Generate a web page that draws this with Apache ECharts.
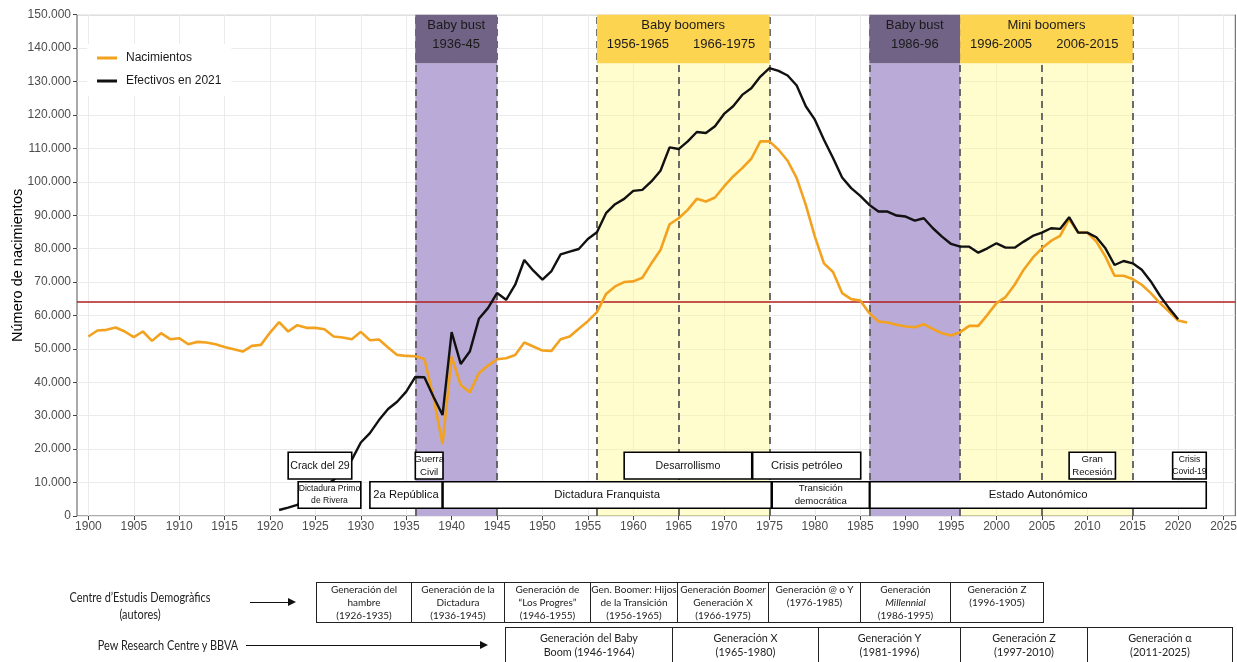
<!DOCTYPE html>
<html>
<head>
<meta charset="utf-8">
<script src="https://cdn.jsdelivr.net/npm/echarts@6/dist/echarts.min.js"></script>
<style>
  html, body { margin: 0; padding: 0; background: #fff; }
  #chart { position: absolute; left: 0; top: 0; width: 1237px; height: 662px; }
  .lbl { position: absolute; font-family: Lato, 'Open Sans', sans-serif; color: #222; text-align: center; white-space: nowrap;
         transform: scaleX(0.84); transform-origin: 50% 50%; }
  .cell { position: absolute; box-sizing: border-box; border: 1px solid #222; background: #fff;
          font-family: Lato, 'Open Sans', sans-serif; color: #222; text-align: center; white-space: nowrap; overflow: visible; }
  .arrow { position: absolute; height: 0; border-top: 1.3px solid #111; }
  .arrow::after { content: ''; position: absolute; right: -2px; top: -5px; border-left: 8px solid #111;
                  border-top: 4.5px solid transparent; border-bottom: 4.5px solid transparent; }
</style>
</head>
<body>
<div id="chart"></div>
<script>
// ---------------- DATA ----------------
const birthYears = [1900,1901,1902,1903,1904,1905,1906,1907,1908,1909,1910,1911,1912,1913,1914,1915,1916,1917,1918,1919,
  1920,1921,1922,1923,1924,1925,1926,1927,1928,1929,1930,1931,1932,1933,1934,1935,1936,1937,1938,1939,
  1940,1941,1942,1943,1944,1945,1946,1947,1948,1949,1950,1951,1952,1953,1954,1955,1956,1957,1958,1959,
  1960,1961,1962,1963,1964,1965,1966,1967,1968,1969,1970,1971,1972,1973,1974,1975,1976,1977,1978,1979,
  1980,1981,1982,1983,1984,1985,1986,1987,1988,1989,1990,1991,1992,1993,1994,1995,1996,1997,1998,1999,
  2000,2001,2002,2003,2004,2005,2006,2007,2008,2009,2010,2011,2012,2013,2014,2015,2016,2017,2018,2019,
  2020,2021];
const births = [53700,55500,55700,56400,55200,53500,55200,52400,54700,52900,53200,51400,52100,51900,51400,50600,49900,49200,50900,51200,
  54900,58000,55200,57100,56300,56300,55900,53700,53400,52900,55100,52600,52800,50400,48200,47900,47800,47000,35500,21500,
  47700,39200,37000,42700,45000,46900,47200,48200,51900,50700,49500,49400,52900,53700,56000,58300,61000,66400,68700,70000,
  70200,71300,75600,79600,87300,89100,91600,94900,94100,95300,98600,101600,104100,106900,112100,112100,109600,106300,101100,93100,
  83600,75600,73000,66700,64900,64500,60700,58200,57900,57200,56700,56500,57400,55900,54700,54000,55000,56900,56900,60200,
  63700,65500,69200,73700,77300,80100,82300,83800,88800,84800,84800,82100,77600,71900,71900,70900,69200,66700,63700,61200,
  58500,57900];

const survivorYears = [1921,1922,1923,1924,1925,1926,1927,1928,1929,1930,1931,1932,1933,1934,1935,1936,1937,1938,1939,
  1940,1941,1942,1943,1944,1945,1946,1947,1948,1949,1950,1951,1952,1953,1954,1955,1956,1957,1958,1959,
  1960,1961,1962,1963,1964,1965,1966,1967,1968,1969,1970,1971,1972,1973,1974,1975,1976,1977,1978,1979,
  1980,1981,1982,1983,1984,1985,1986,1987,1988,1989,1990,1991,1992,1993,1994,1995,1996,1997,1998,1999,
  2000,2001,2002,2003,2004,2005,2006,2007,2008,2009,2010,2011,2012,2013,2014,2015,2016,2017,2018,2019,2020];
const survivors = [1800,2500,3300,5500,7500,9000,10800,13500,16800,22000,24800,28700,32000,34200,37200,41600,41500,35700,30200,
  55000,45500,49200,59000,62200,66700,64700,69200,76600,73400,70700,73300,78300,79100,79900,82900,84900,90600,93300,94900,
  97300,97600,100100,103300,110300,109800,112100,114900,114600,116600,120300,122600,126000,128000,131500,134000,133200,131800,128800,122600,
  118600,112600,107100,101300,98100,95800,93100,91100,91100,89900,89600,88400,89100,86100,83600,81400,80600,80600,78800,80100,
  81600,80300,80300,82100,83800,84800,86100,85900,89400,84800,84800,83400,80100,75100,76300,75600,73700,70200,65900,62200,58900];

const yTicks = { min: 0, max: 150000, step: 10000 };
const xTicks = { min: 1900, max: 2025, step: 5 };
const referenceLevel = 64200;
const headerFloor = 135500;

const bustPeriods = [[1936, 1945], [1986, 1996]];
const boomPeriods = [[1956, 1975], [1996, 2015]];
const headerBoxes = [
  { text: 'Baby bust\n1936-45', from: 1936, to: 1945, kind: 'bust' },
  { text: 'Baby boomers', from: 1956, to: 1975, kind: 'boom' },
  { text: 'Baby bust\n1986-96', from: 1986, to: 1996, kind: 'bust' },
  { text: 'Mini boomers', from: 1996, to: 2015, kind: 'boom' }
];
const headerSubLabels = [
  { text: '1956-1965', from: 1956, to: 1965 },
  { text: '1966-1975', from: 1965, to: 1975 },
  { text: '1996-2005', from: 1996, to: 2005 },
  { text: '2006-2015', from: 2005, to: 2015 }
];
const dashedYears = [1936, 1945, 1956, 1965, 1975, 1986, 1996, 2005, 2015];

const eventRows = { upper: [11050, 19070], lower: [2300, 10270] };
const events = [
  { text: 'Crack del 29', from: 1922.0, to: 1929.0, row: 'upper', size: 10.6 },
  { text: 'Dictadura Primo\nde Rivera', from: 1923.1, to: 1930.0, row: 'lower', size: 8.6 },
  { text: '2a República', from: 1931.0, to: 1938.95, row: 'lower', size: 11.2 },
  { text: 'Guerra\nCivil', from: 1936.0, to: 1939.05, row: 'upper', size: 9.6 },
  { text: 'Dictadura Franquista', from: 1939.05, to: 1975.2, row: 'lower', size: 11.4 },
  { text: 'Desarrollismo', from: 1959.0, to: 1973.05, row: 'upper', size: 10.6 },
  { text: 'Crisis petróleo', from: 1973.15, to: 1985.05, row: 'upper', size: 11.2 },
  { text: 'Transición\ndemocrática', from: 1975.3, to: 1986.0, row: 'lower', size: 9.6 },
  { text: 'Estado Autonómico', from: 1986.07, to: 2023.1, row: 'lower', size: 11.4 },
  { text: 'Gran\nRecesión', from: 2008.0, to: 2013.1, row: 'upper', size: 9.6 },
  { text: 'Crisis\nCovid-19', from: 2019.4, to: 2023.1, row: 'upper', size: 8.6 }
];

const cedLabel = ['Centre d’Estudis  Demogràfics', '(autores)'];
const cedGenerations = [
  ['Generación del', 'hambre', '(1926-1935)'],
  ['Generación de la', 'Dictadura', '(1936-1945)'],
  ['Generación de', '“Los Progres”', '(1946-1955)'],
  ['Gen. Boomer: Hijos', 'de la Transición', '(1956-1965)'],
  ['Generación <i>Boomer</i>', 'Generación X', '(1966-1975)'],
  ['Generación @ o Y', '(1976-1985)'],
  ['Generación', '<i>Millennial</i>', '(1986-1995)'],
  ['Generación Z', '(1996-1905)']
];
const pewLabel = 'Pew Research Centre y BBVA';
const pewGenerations = [
  ['Generación del Baby', 'Boom (1946-1964)'],
  ['Generación X', '(1965-1980)'],
  ['Generación Y', '(1981-1996)'],
  ['Generación Z', '(1997-2010)'],
  ['Generación α', '(2011-2025)']
];

// ---------------- LAYOUT / STYLE ----------------
const FONT = "'Liberation Sans', Arial, sans-serif";
const C = {
  births: '#F3A21F', survivors: '#111111', ref: '#B01E1E',
  bustBand: '#B9AAD7', bustHead: '#706385', boomBand: 'rgba(255,248,130,0.40)', boomHead: '#FDD450',
  grid: '#EBEBEB', dash: '#5c5c5c'
};

const series = [];

// shaded bands
series.push({
  type: 'line', data: [], z: 1, silent: true, xAxisIndex: 0, yAxisIndex: 0,
  markArea: {
    silent: true, z: 1,
    data: bustPeriods.map(p => [{ xAxis: p[0], yAxis: 0, itemStyle: { color: C.bustBand } }, { xAxis: p[1], yAxis: headerFloor }])
      .concat(boomPeriods.map(p => [{ xAxis: p[0], yAxis: 0, itemStyle: { color: C.boomBand } }, { xAxis: p[1], yAxis: headerFloor }]))
  }
});
// reference line (spans whole panel)
series.push({
  type: 'line', data: [], z: 2, silent: true, xAxisIndex: 1, yAxisIndex: 1,
  markLine: { silent: true, z: 2, symbol: 'none', label: { show: false },
    lineStyle: { color: C.ref, width: 1.5, type: 'solid' }, data: [{ yAxis: referenceLevel }] }
});
// dashed separators
series.push({
  type: 'line', data: [], z: 3, silent: true, xAxisIndex: 0, yAxisIndex: 0,
  markLine: { silent: true, z: 3, symbol: 'none', label: { show: false },
    lineStyle: { color: C.dash, width: 1.8, type: [7, 5] }, data: dashedYears.map(y => ({ xAxis: y })) }
});
// data lines
series.push({
  name: 'Nacimientos', type: 'line', z: 4, xAxisIndex: 0, yAxisIndex: 0,
  data: birthYears.map((y, i) => [y, births[i]]),
  showSymbol: false, symbol: 'none', lineStyle: { color: C.births, width: 2.6 }, itemStyle: { color: C.births }
});
series.push({
  name: 'Efectivos en 2021', type: 'line', z: 5, xAxisIndex: 0, yAxisIndex: 0,
  data: survivorYears.map((y, i) => [y, survivors[i]]),
  showSymbol: false, symbol: 'none', lineStyle: { color: C.survivors, width: 2.4 }, itemStyle: { color: C.survivors }
});
// event boxes
series.push({
  type: 'line', data: [], z: 10, silent: true, xAxisIndex: 0, yAxisIndex: 0,
  markArea: {
    silent: true, z: 10,
    data: events.map(e => [{
      name: e.text, xAxis: e.from, yAxis: eventRows[e.row][0],
      itemStyle: { color: '#fff', borderColor: '#000', borderWidth: 1.6 },
      label: { show: true, position: 'inside', color: '#111', fontFamily: FONT,
               fontSize: e.size, lineHeight: e.size + 3.5 }
    }, { xAxis: e.to, yAxis: eventRows[e.row][1] }])
  }
});
// header boxes
series.push({
  type: 'line', data: [], z: 11, silent: true, xAxisIndex: 0, yAxisIndex: 0,
  markArea: {
    silent: true, z: 11,
    data: headerBoxes.map(h => [{
      name: h.text, xAxis: h.from, yAxis: headerFloor,
      itemStyle: { color: h.kind === 'bust' ? C.bustHead : C.boomHead },
      label: { show: true, position: 'insideTop', distance: 1, color: '#1a1a1a', fontFamily: FONT, fontSize: 13, lineHeight: 19 }
    }, { xAxis: h.to, yAxis: yTicks.max }]).concat(headerSubLabels.map(h => [{
      name: h.text, xAxis: h.from, yAxis: headerFloor,
      itemStyle: { color: 'rgba(0,0,0,0)' },
      label: { show: true, position: 'insideTop', distance: 20, color: '#1a1a1a', fontFamily: FONT, fontSize: 13, lineHeight: 19 }
    }, { xAxis: h.to, yAxis: yTicks.max }]))
  }
});

const option = {
  animation: false,
  backgroundColor: '#fff',
  textStyle: { fontFamily: FONT },
  legend: {
    data: ['Nacimientos', 'Efectivos en 2021'], orient: 'vertical', left: 87, top: 44,
    padding: [8, 10, 9, 10], itemGap: 11, itemWidth: 20, itemHeight: 3, icon: 'rect',
    backgroundColor: '#fff', selectedMode: false,
    textStyle: { fontSize: 12, color: '#1a1a1a', fontFamily: FONT, padding: [0, 0, 0, 4] }
  },
  grid: [
    { left: 88.4, right: 13.5, top: 14.7, bottom: 146, show: false, containLabel: false, outerBoundsMode: 'none' },
    { left: 77, right: 1.7, top: 14.7, bottom: 146, show: true, borderColor: '#555', borderWidth: 1,
      backgroundColor: 'rgba(0,0,0,0)', containLabel: false, outerBoundsMode: 'none' }
  ],
  xAxis: [
    { gridIndex: 0, type: 'value', min: xTicks.min, max: xTicks.max, interval: xTicks.step,
      axisLine: { show: false }, axisTick: { show: true, length: 4, lineStyle: { color: '#444' } },
      axisLabel: { fontSize: 12, color: '#4d4d4d', margin: 5, fontFamily: FONT, formatter: v => String(v) },
      splitLine: { show: true, lineStyle: { color: C.grid, width: 1 } } },
    { gridIndex: 1, type: 'value', min: 0, max: 1, show: false }
  ],
  yAxis: [
    { gridIndex: 0, type: 'value', min: yTicks.min, max: yTicks.max, show: false, splitLine: { show: false } },
    { gridIndex: 1, type: 'value', min: yTicks.min, max: yTicks.max, interval: yTicks.step,
      name: 'Número de nacimientos', nameLocation: 'middle', nameGap: 52, nameRotate: 90, nameMoveOverlap: false,
      nameTextStyle: { fontSize: 14.5, color: '#000', fontFamily: FONT },
      axisLine: { show: false }, axisTick: { show: true, length: 4, lineStyle: { color: '#444' } },
      axisLabel: { fontSize: 12, color: '#4d4d4d', margin: 6, fontFamily: FONT,
        formatter: v => v === 0 ? '0' : (v / 1000) + '.000' },
      splitLine: { show: true, lineStyle: { color: C.grid, width: 1 } } }
  ],
  series: series
};

const chart = echarts.init(document.getElementById('chart'), null, { renderer: 'canvas' });
chart.setOption(option);

// ---------------- GENERATION TABLES (text below chart) ----------------
const cedEdges = [316, 411, 504, 590, 677, 768, 860, 950, 1043];
const pewEdges = [505, 672, 818, 960, 1087, 1232];
const body = document.body;
function addDiv(cls, css, html) {
  const d = document.createElement('div');
  d.className = cls; Object.assign(d.style, css); d.innerHTML = html; body.appendChild(d); return d;
}
addDiv('lbl', { left: '40px', width: '200px', top: '589px', fontSize: '13px', lineHeight: '17px' }, cedLabel.join('<br>'));
addDiv('arrow', { left: '250px', width: '44px', top: '602px' }, '');
addDiv('lbl', { left: '60px', width: '216px', top: '637px', fontSize: '13px', lineHeight: '17px' }, pewLabel);
addDiv('arrow', { left: '246px', width: '240px', top: '645px' }, '');
cedGenerations.forEach((lines, i) => {
  addDiv('cell', { left: cedEdges[i] + 'px', width: (cedEdges[i + 1] - cedEdges[i] + 1) + 'px', top: '582px', height: '41px',
    fontSize: '10px', lineHeight: '13px', paddingTop: '0px' }, lines.join('<br>'));
});
pewGenerations.forEach((lines, i) => {
  addDiv('cell', { left: pewEdges[i] + 'px', width: (pewEdges[i + 1] - pewEdges[i] + 1) + 'px', top: '627px', height: '36px',
    fontSize: '10.8px', lineHeight: '14px', paddingTop: '3px' }, lines.join('<br>'));
});
</script>
</body>
</html>
